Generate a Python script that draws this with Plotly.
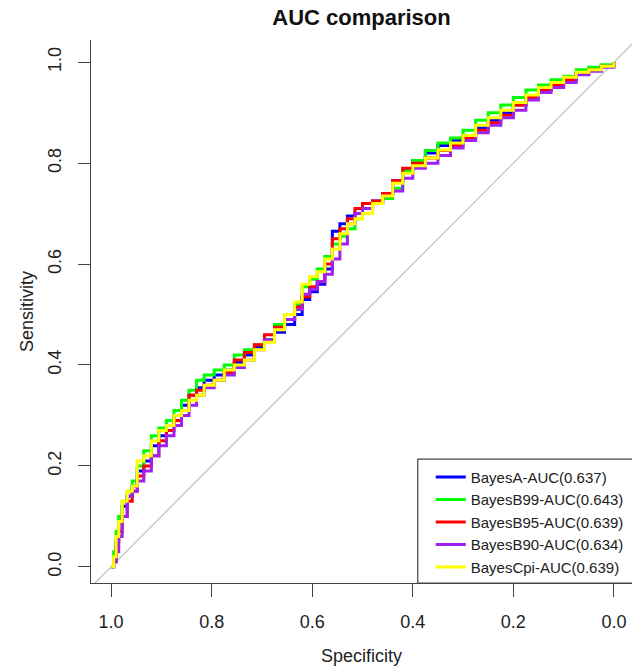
import plotly.graph_objs as go

# specificity grid shared by every curve (x axis, reversed)
specificity = [1.000, 0.995, 0.990, 0.985, 0.978, 0.968, 0.958, 0.948, 0.935, 0.920,
               0.905, 0.890, 0.875, 0.860, 0.845, 0.830, 0.815, 0.795, 0.775, 0.755,
               0.735, 0.715, 0.695, 0.675, 0.655, 0.635, 0.620, 0.605, 0.590, 0.575,
               0.560, 0.545, 0.530, 0.515, 0.500, 0.480, 0.460, 0.440, 0.420, 0.400,
               0.375, 0.350, 0.325, 0.300, 0.275, 0.250, 0.225, 0.200, 0.175, 0.150,
               0.125, 0.100, 0.075, 0.050, 0.025, 0.000]

sens_bayesA = [0.00, 0.02, 0.05, 0.09, 0.12, 0.14, 0.16, 0.19, 0.21, 0.24,
               0.26, 0.28, 0.30, 0.32, 0.34, 0.355, 0.37, 0.38, 0.39, 0.405,
               0.42, 0.435, 0.45, 0.465, 0.48, 0.50, 0.53, 0.545, 0.56, 0.59,
               0.665, 0.68, 0.695, 0.70, 0.71, 0.725, 0.74, 0.765, 0.785, 0.805,
               0.82, 0.835, 0.845, 0.855, 0.87, 0.885, 0.90, 0.915, 0.93, 0.945,
               0.955, 0.965, 0.978, 0.985, 0.993, 1.00]

sens_bayesB99 = [0.00, 0.03, 0.07, 0.10, 0.13, 0.15, 0.17, 0.20, 0.23, 0.26,
                 0.275, 0.29, 0.31, 0.33, 0.35, 0.37, 0.38, 0.39, 0.40, 0.42,
                 0.43, 0.44, 0.45, 0.48, 0.50, 0.52, 0.555, 0.57, 0.59, 0.615,
                 0.64, 0.655, 0.67, 0.69, 0.70, 0.72, 0.73, 0.75, 0.785, 0.805,
                 0.825, 0.84, 0.85, 0.865, 0.885, 0.90, 0.915, 0.93, 0.945, 0.955,
                 0.965, 0.972, 0.985, 0.99, 0.995, 1.00]

sens_bayesB95 = [0.00, 0.01, 0.04, 0.07, 0.10, 0.13, 0.15, 0.18, 0.20, 0.22,
                 0.25, 0.27, 0.29, 0.31, 0.34, 0.35, 0.36, 0.37, 0.385, 0.41,
                 0.425, 0.44, 0.46, 0.475, 0.49, 0.515, 0.535, 0.555, 0.565, 0.60,
                 0.65, 0.67, 0.69, 0.71, 0.72, 0.725, 0.74, 0.765, 0.79, 0.80,
                 0.81, 0.825, 0.835, 0.85, 0.865, 0.88, 0.895, 0.915, 0.93, 0.945,
                 0.955, 0.965, 0.978, 0.985, 0.992, 1.00]

sens_bayesB90 = [0.00, 0.01, 0.03, 0.06, 0.10, 0.14, 0.15, 0.17, 0.19, 0.22,
                 0.24, 0.26, 0.28, 0.30, 0.32, 0.34, 0.355, 0.37, 0.38, 0.395,
                 0.41, 0.43, 0.45, 0.47, 0.49, 0.51, 0.54, 0.55, 0.565, 0.58,
                 0.61, 0.64, 0.68, 0.70, 0.71, 0.72, 0.735, 0.745, 0.77, 0.79,
                 0.80, 0.815, 0.83, 0.845, 0.86, 0.875, 0.89, 0.905, 0.925, 0.94,
                 0.95, 0.96, 0.975, 0.982, 0.99, 1.00]

sens_bayesCpi = [0.00, 0.02, 0.06, 0.09, 0.13, 0.15, 0.16, 0.21, 0.22, 0.25,
                 0.27, 0.28, 0.30, 0.31, 0.33, 0.34, 0.36, 0.37, 0.39, 0.40,
                 0.41, 0.43, 0.445, 0.47, 0.50, 0.525, 0.56, 0.575, 0.585, 0.61,
                 0.63, 0.66, 0.68, 0.69, 0.70, 0.72, 0.735, 0.76, 0.78, 0.795,
                 0.81, 0.826, 0.84, 0.855, 0.875, 0.89, 0.905, 0.92, 0.935, 0.95,
                 0.96, 0.97, 0.98, 0.985, 0.992, 1.00]

model_names = ['BayesA', 'BayesB99', 'BayesB95', 'BayesB90', 'BayesCpi']
auc_values = [0.637, 0.643, 0.639, 0.634, 0.639]
line_colors = ['#0000FF', '#00FF00', '#FF0000', '#A020F0', '#FFFF00']

# chance line (sensitivity = 1 - specificity), extended past the axes
chance_spec = [1.1, -0.1]
chance_sens = [-0.1, 1.1]

curves = [sens_bayesA, sens_bayesB99, sens_bayesB95, sens_bayesB90, sens_bayesCpi]

fig = go.Figure()
fig.add_trace(go.Scatter(x=chance_spec, y=chance_sens, mode='lines',
                         line=dict(color='#BEBEBE', width=1.2),
                         showlegend=False, hoverinfo='skip'))

for name, auc, color, sens in zip(model_names, auc_values, line_colors, curves):
    fig.add_trace(go.Scatter(x=specificity, y=sens, mode='lines',
                             name=f'{name}-AUC({auc:.3f})',
                             line=dict(color=color, width=3, shape='hv')))

axis_font = dict(family='Liberation Sans, Arial, sans-serif', size=18, color='#222222')

fig.update_layout(
    width=632, height=666,
    margin=dict(l=91, r=0, t=40, b=83),
    paper_bgcolor='white', plot_bgcolor='white',
    font=dict(family='Liberation Sans, Arial, sans-serif', color='#222222'),
    title=dict(text='<b>AUC comparison</b>', x=0.5, xref='paper', xanchor='center',
               y=1 - 17 / 666, yanchor='middle',
               font=dict(family='Liberation Sans, Arial, sans-serif', size=22, color='#111111')),
    xaxis=dict(range=[1.04, -0.036], autorange=False, automargin=False,
               tickvals=[1.0, 0.8, 0.6, 0.4, 0.2, 0.0],
               ticktext=['1.0', '0.8', '0.6', '0.4', '0.2', '0.0'],
               ticks='outside', ticklen=13, tickwidth=1.2, tickcolor='#444444',
               ticklabelstandoff=9,
               showline=True, linecolor='#444444', linewidth=1.2,
               showgrid=False, zeroline=False, tickfont=axis_font,
               title=dict(text='Specificity', font=axis_font, standoff=18)),
    yaxis=dict(range=[-0.032, 1.044], autorange=False, automargin=False,
               tickvals=[0.0, 0.2, 0.4, 0.6, 0.8, 1.0],
               ticktext=['0.0', '0.2', '0.4', '0.6', '0.8', '1.0'],
               ticks='outside', ticklen=12, tickwidth=1.2, tickcolor='#444444',
               tickangle=-90, ticklabelstandoff=10,
               showline=True, linecolor='#444444', linewidth=1.2,
               showgrid=False, zeroline=False, tickfont=axis_font,
               title=dict(text='Sensitivity', font=axis_font, standoff=6)),
    legend=dict(x=0.628, y=0.225, xanchor='left', yanchor='top',
                bgcolor='rgba(255,255,255,0)', borderwidth=0,
                font=dict(family='Liberation Sans, Arial, sans-serif', size=15, color='#222222'),
                tracegroupgap=0),
    shapes=[dict(type='rect', xref='paper', yref='paper',
                 x0=0.604, x1=1.01, y0=0, y1=0.228,
                 line=dict(color='#444444', width=1.2), fillcolor='white', layer='below')],
)

# drop the browser's default body margin so the figure fills the window exactly
fig.write_html('out.html', config={'displayModeBar': False},
               post_script="document.body.style.margin='0';")
